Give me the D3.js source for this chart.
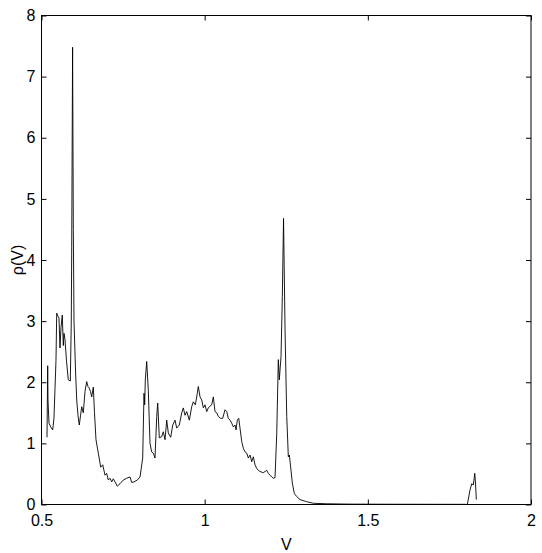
<!DOCTYPE html>
<html>
<head>
<meta charset="utf-8">
<script src="https://cdn.jsdelivr.net/npm/d3@7/dist/d3.min.js"></script>
<style>
  body { margin: 0; background: #fff; }
  text { font-family: "Liberation Sans", Arial, Helvetica, sans-serif; fill: #000; }
</style>
</head>
<body>
<div id="chart"></div>
<script>
// Density of states rho(V)
const vValues = [
  0.5169, 0.5190, 0.5199, 0.5230, 0.5282, 0.5343, 0.5383, 0.5414, 0.5444, 0.5466,
  0.5506, 0.5536, 0.5567, 0.5598, 0.5637, 0.5668, 0.5690, 0.5720, 0.5766, 0.5821,
  0.5883, 0.5913, 0.5926, 0.5953, 0.5975, 0.5996, 0.6042, 0.6079, 0.6119, 0.6158,
  0.6195, 0.6232, 0.6281, 0.6333, 0.6385, 0.6425, 0.6456, 0.6502, 0.6538, 0.6588,
  0.6624, 0.6670, 0.6741, 0.6814, 0.6876, 0.6946, 0.6998, 0.7047, 0.7099, 0.7151,
  0.7200, 0.7253, 0.7323, 0.7406, 0.7507, 0.7611, 0.7712, 0.7764, 0.7835, 0.7936,
  0.8019, 0.8101, 0.8141, 0.8162, 0.8181, 0.8224, 0.8273, 0.8325, 0.8377, 0.8426,
  0.8478, 0.8531, 0.8561, 0.8610, 0.8684, 0.8733, 0.8785, 0.8837, 0.8886, 0.8960,
  0.9021, 0.9091, 0.9143, 0.9223, 0.9297, 0.9346, 0.9398, 0.9450, 0.9530, 0.9603,
  0.9652, 0.9713, 0.9756, 0.9805, 0.9858, 0.9910, 0.9959, 1.0011, 1.0063, 1.0112,
  1.0143, 1.0216, 1.0265, 1.0317, 1.0369, 1.0418, 1.0492, 1.0553, 1.0624, 1.0676,
  1.0725, 1.0777, 1.0829, 1.0878, 1.0930, 1.0961, 1.1001, 1.1044, 1.1083, 1.1136,
  1.1185, 1.1237, 1.1289, 1.1338, 1.1390, 1.1442, 1.1491, 1.1543, 1.1595, 1.1644,
  1.1696, 1.1797, 1.1849, 1.1901, 1.1951, 1.2003, 1.2055, 1.2104, 1.2156, 1.2208,
  1.2257, 1.2288, 1.2309, 1.2340, 1.2380, 1.2417, 1.2463, 1.2515, 1.2564, 1.2595,
  1.2646, 1.2686, 1.2748, 1.2821, 1.2922, 1.3127, 1.3330, 1.3740, 1.4454, 1.5987,
  1.7519, 1.7979, 1.8049, 1.8132, 1.8184, 1.8233, 1.8276, 1.8294, 1.8325
];
const rhoValues = [
  1.10, 2.27, 1.71, 1.33, 1.27, 1.22, 1.42, 1.90, 2.36, 3.13,
  3.08, 3.05, 2.56, 2.90, 3.10, 2.60, 2.80, 2.70, 2.35, 2.04,
  2.02, 3.00, 4.20, 7.48, 4.50, 3.00, 2.20, 1.71, 1.45, 1.30,
  1.45, 1.60, 1.50, 1.85, 2.01, 1.93, 1.91, 1.85, 1.76, 1.92,
  1.50, 1.06, 0.84, 0.61, 0.65, 0.48, 0.51, 0.40, 0.43, 0.37,
  0.42, 0.37, 0.30, 0.34, 0.40, 0.43, 0.45, 0.36, 0.37, 0.40,
  0.45, 0.76, 1.82, 1.63, 2.04, 2.34, 1.87, 1.00, 0.86, 0.84,
  0.76, 1.44, 1.66, 1.09, 1.11, 1.19, 1.06, 1.38, 1.17, 1.10,
  1.30, 1.38, 1.25, 1.30, 1.50, 1.58, 1.46, 1.52, 1.38, 1.60,
  1.68, 1.63, 1.76, 1.93, 1.76, 1.71, 1.58, 1.63, 1.52, 1.58,
  1.60, 1.63, 1.76, 1.52, 1.50, 1.44, 1.41, 1.41, 1.55, 1.52,
  1.41, 1.38, 1.33, 1.27, 1.30, 1.22, 1.38, 1.41, 1.25, 1.03,
  0.92, 0.86, 0.84, 0.76, 0.81, 0.70, 0.78, 0.65, 0.59, 0.56,
  0.54, 0.52, 0.54, 0.56, 0.51, 0.48, 0.45, 0.43, 0.44, 1.15,
  2.37, 2.04, 2.20, 2.42, 3.40, 4.68, 2.86, 1.44, 0.78, 0.81,
  0.56, 0.35, 0.18, 0.13, 0.08, 0.046, 0.02, 0.012, 0.006, 0.004,
  0.003, 0.003, 0.0, 0.24, 0.34, 0.32, 0.51, 0.40, 0.08
];
const xTicks = [0.5, 1, 1.5, 2];
const yTicks = [0, 1, 2, 3, 4, 5, 6, 7, 8];

const width = 542, height = 553;
const margin = { top: 15.5, right: 11, bottom: 48.5, left: 41.5 };
const innerW = width - margin.left - margin.right;
const innerH = height - margin.top - margin.bottom;

const svg = d3.select("#chart").append("svg")
  .attr("width", width)
  .attr("height", height);

const g = svg.append("g")
  .attr("transform", `translate(${margin.left},${margin.top})`);

const x = d3.scaleLinear().domain([0.5, 2]).range([0, innerW]);
const y = d3.scaleLinear().domain([0, 8]).range([innerH, 0]);

const points = vValues.map((v, i) => [v, rhoValues[i]]);

// curve
g.append("path")
  .datum(points)
  .attr("fill", "none")
  .attr("stroke", "#000")
  .attr("stroke-width", 0.9)
  .attr("stroke-linejoin", "round")
  .attr("d", d3.line().x(d => x(d[0])).y(d => y(d[1])));

// axes with inward ticks (MATLAB style)
const tick = 5;
function styleAxis(sel) {
  sel.select(".domain").remove();
  sel.selectAll("line").attr("stroke", "#000");
  sel.selectAll("text").style("font-size", "16px")
    .style("font-family", '"Liberation Sans", Arial, sans-serif');
}

g.append("g")
  .attr("transform", `translate(0,${innerH})`)
  .call(d3.axisBottom(x).tickValues(xTicks).tickSize(-tick).tickPadding(10)
    .tickFormat(d3.format("")))
  .call(styleAxis);

g.append("g")
  .call(d3.axisTop(x).tickValues(xTicks).tickSize(-tick).tickFormat(""))
  .call(styleAxis);

g.append("g")
  .call(d3.axisLeft(y).tickValues(yTicks).tickSize(-tick).tickPadding(6))
  .call(styleAxis);

g.append("g")
  .attr("transform", `translate(${innerW},0)`)
  .call(d3.axisRight(y).tickValues(yTicks).tickSize(-tick).tickFormat(""))
  .call(styleAxis);

// frame
g.append("rect")
  .attr("width", innerW)
  .attr("height", innerH)
  .attr("fill", "none")
  .attr("stroke", "#000")
  .attr("stroke-width", 1);

// axis labels
svg.append("text")
  .attr("x", margin.left + innerW / 2)
  .attr("y", 550)
  .attr("text-anchor", "middle")
  .style("font-size", "16px")
  .text("V");

svg.append("text")
  .attr("transform", `translate(23,${margin.top + innerH / 2}) rotate(-90)`)
  .attr("text-anchor", "middle")
  .style("font-size", "16px")
  .text("ρ(V)");
</script>
</body>
</html>
